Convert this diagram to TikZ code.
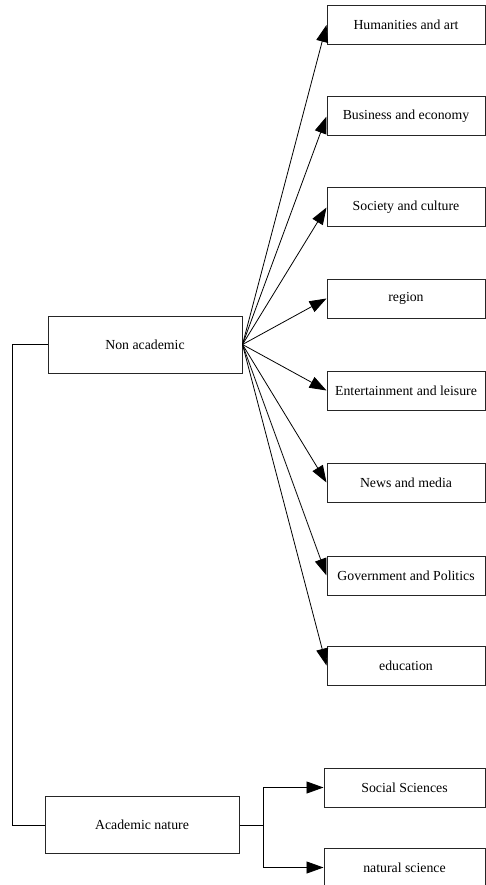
\documentclass[tikz,border=0pt]{standalone}
\usepackage{fontspec}
\setmainfont{Liberation Serif}
\usetikzlibrary{arrows.meta}
\begin{document}
\begin{tikzpicture}[x=1pt,y=-1pt,
  box/.style={draw=black!85, line width=1pt, rectangle, inner sep=0pt,
    font=\fontsize{13.8}{15}\selectfont},
  leafbox/.style={box, minimum width=158pt, minimum height=39pt},
  rootbox/.style={box, minimum width=194pt, minimum height=57pt},
  link/.style={draw=black, line width=0.8pt},
  arrowlink/.style={link, -{Triangle[length=17pt,width=12pt]}}
]
\useasboundingbox (0,0) rectangle (486,885);

% left-hand categories
\node[rootbox] (nonac) at (145,344.5) {Non academic};
\node[rootbox] (acad)  at (142,825)   {Academic nature};

% non-academic subcategories
\node[leafbox] (hum)  at (406,25)    {Humanities and art};
\node[leafbox] (bus)  at (406,116.5) {Business and economy};
\node[leafbox] (soc)  at (406,207.5) {Society and culture};
\node[leafbox] (reg)  at (406,298.5) {region};
\node[leafbox] (ent)  at (406,390.5) {Entertainment and leisure};
\node[leafbox] (news) at (406,482.5) {News and media};
\node[leafbox] (gov)  at (406,575.5) {Government and Politics};
\node[leafbox] (edu)  at (406,665.5) {education};

% academic subcategories
\node[box, minimum width=161pt, minimum height=39pt] (ssci) at (404.5,787.5) {Social Sciences};
\node[box, minimum width=161pt, minimum height=39pt] (nsci) at (404.5,867.5) {natural science};

% trunk joining the two main categories
\coordinate (trunk) at (12,0);
\draw[link] (nonac.west) -- (nonac.west -| trunk) -- (acad.west -| trunk) -- (acad.west);

% fan of arrows from the non-academic box
\foreach \t in {hum,bus,soc,reg,ent,news,gov,edu}
  \draw[arrowlink] (nonac.east) -- (\t.west);

% branching connector of the academic box
\coordinate (split) at (263,825);
\draw[link] (acad.east) -- (split);
\draw[arrowlink] (split) |- (ssci.west);
\draw[arrowlink] (split) |- (nsci.west);
\end{tikzpicture}
\end{document}
